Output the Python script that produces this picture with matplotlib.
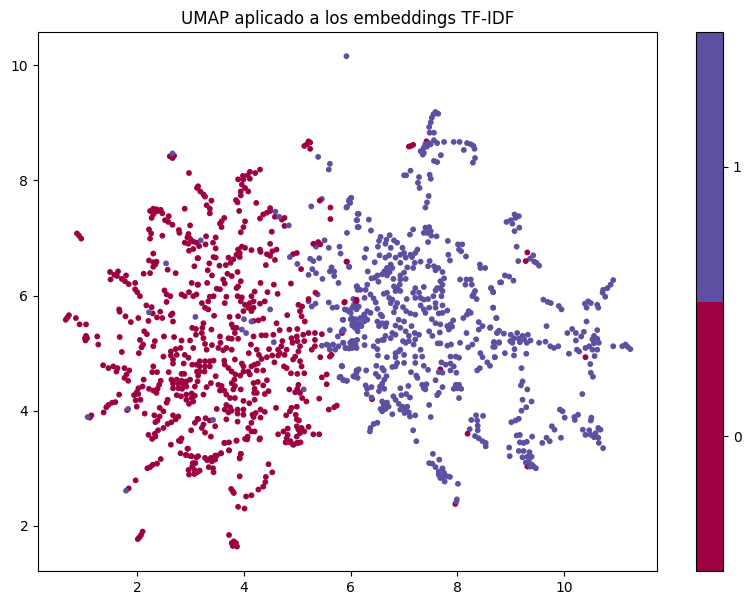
# UMAP sobre embeddings TF-IDF
import numpy as np
import matplotlib
matplotlib.use("Agg")
import matplotlib.pyplot as plt

# clase 0 que queda debajo de la clase 1
puntos_0_debajo = [
    (7.42,8.68),(7.68,4.72),(6.40,4.20),(5.84,5.35),(7.96,2.38),(9.31,3.03),
]

# clase 1
puntos_1 = [
    (5.39,8.41),(5.61,8.29),(5.59,8.19),(5.46,7.68),(5.26,7.55),(6.01,7.70),(5.97,7.66),(5.99,7.61),(5.92,7.53),(6.13,7.42),
    (6.11,7.31),(6.13,7.19),(5.93,7.09),(5.35,6.85),(5.51,6.96),(5.59,6.83),(5.79,6.85),(5.81,6.73),(5.97,6.50),(5.41,6.65),
    (5.24,6.64),(5.30,6.60),(5.28,6.46),(5.00,6.55),(5.21,6.36),(5.35,6.39),(5.47,6.29),(5.64,6.49),(5.61,6.42),(5.69,6.42),
    (5.69,6.34),(5.77,6.22),(6.11,6.16),(5.38,6.02),(6.13,6.10),(6.05,5.94),
    (5.21,5.90),(5.27,5.81),(5.34,5.86),(5.59,5.88),(5.66,5.79),(5.74,5.80),(5.89,5.76),(5.96,5.73),(6.03,5.79),(6.11,5.76),
    (5.85,5.58),(6.02,5.61),(6.08,5.58),(6.03,5.51),(6.11,5.50),(6.08,5.44),(6.13,5.38),(5.61,5.40),(5.83,5.38),(5.86,5.41),
    (5.76,5.29),(5.86,5.18),(5.67,5.15),(5.59,5.13),(5.46,5.13),(5.55,5.15),(5.61,5.06),(5.71,5.06),(5.77,5.12),(5.91,5.09),
    (6.02,5.21),(6.08,5.18),(6.01,5.12),(6.11,5.09),(5.83,4.78),(5.79,4.58),(5.86,4.53),(5.92,4.52),(6.11,4.70),(6.05,4.60),
    (6.13,4.57),
    (5.97,7.64),(5.93,7.54),(6.15,7.42),(6.12,7.31),(6.34,7.32),(6.15,7.19),(6.38,7.13),(7.43,7.62),(7.40,7.53),(7.17,7.15),
    (7.11,7.06),(7.40,7.18),(7.47,7.19),(7.37,7.09),(7.43,7.09),(7.50,7.12),(7.51,7.04),(7.45,6.93),(7.61,7.03),(7.82,6.95),
    (6.56,7.02),(6.73,7.05),(6.53,6.95),(6.67,6.97),(6.65,6.90),(6.81,6.96),(6.87,6.92),(6.51,6.85),(6.75,6.83),(6.97,6.83),
    (6.29,6.81),(6.26,6.66),(6.54,6.70),(6.72,6.70),(6.65,6.66),(6.84,6.66),(6.93,6.71),(7.00,6.74),(7.12,6.71),(7.25,6.80),
    (7.21,6.74),(7.03,6.66),(7.15,6.67),(7.31,6.59),(7.20,6.57),(7.48,6.60),(6.45,6.58),(6.93,6.57),(7.06,6.49),(7.17,6.48),
    (6.75,6.54),(6.78,6.48),(6.68,6.48),(6.63,6.42),(6.73,6.41),(6.59,6.37),(6.68,6.35),(6.32,6.42),(6.50,6.35),(6.45,6.31),
    (6.39,6.30),(6.52,6.24),(7.00,6.40),(6.93,6.35),(7.03,6.29),(6.93,6.28),(6.80,6.29),(7.45,6.51),(7.56,6.51),(7.64,6.48),
    (7.59,6.44),(7.72,6.41),(7.75,6.30),(7.68,6.25),(7.72,6.19),(7.62,6.13),(7.68,6.13),(7.59,6.09),(7.72,6.08),(7.37,6.15),
    (7.21,6.13),(7.17,6.05),(8.05,6.28),(8.17,6.28),(8.25,6.28),(8.15,6.19),(8.27,6.19),(8.42,6.54),(8.43,6.48),(8.52,6.48),
    (8.01,6.89),(8.09,6.89),(8.03,6.80),(8.07,6.77),(8.16,6.68),(7.83,6.71),(7.86,6.61),(8.80,6.23),(8.63,6.13),(8.67,6.06),
    (8.33,6.08),(8.30,6.02),(8.28,5.99),(8.36,5.94),(8.67,5.79),(8.73,5.61),(6.12,6.16),(6.18,6.10),(6.31,6.19),(6.28,6.10),
    (6.26,5.96),(6.43,5.95),(6.37,6.02),(6.47,5.88),(6.62,6.03),(6.68,6.05),(6.72,5.96),(6.78,5.93),(6.75,5.87),(6.81,6.16),
    (6.87,6.13),(6.92,6.19),(6.84,6.08),(6.93,6.08),(7.05,5.94),(7.28,6.05),(7.21,5.96),(7.31,5.96),(7.37,5.93),(7.45,5.94),
    (7.55,5.99),(7.70,5.99),(6.87,5.87),(6.84,5.80),(6.98,5.80),(7.04,5.73),(7.12,5.69),(7.21,5.67),(7.31,5.83),(7.37,5.76),
    (7.47,5.79),(7.40,5.70),(7.59,5.87),(7.59,5.79),(7.72,5.83),(7.81,5.74),(7.72,5.70),(7.65,5.69),(8.21,5.73),(8.25,5.70),
    (8.18,5.67),(8.11,5.61),(7.52,5.59),(7.59,5.52),(7.68,5.50),(7.92,5.57),(7.87,5.50),(7.81,5.47),(7.90,5.46),(7.84,5.41),
    (7.67,5.36),(8.17,5.35),(8.40,5.54),(8.47,5.47),(8.40,5.41),(8.61,5.44),(8.75,5.36),(6.06,5.84),(6.15,5.81),(5.93,5.75),
    (6.00,5.70),(6.25,5.67),(6.31,5.73),(6.37,5.70),(6.26,5.64),(6.18,5.61),(5.86,5.58),(6.00,5.59),(6.09,5.59),(6.31,5.58),
    (6.25,5.55),(6.15,5.52),(6.03,5.48),(6.12,5.44),(6.20,5.47),(5.87,5.40),(6.50,5.77),(6.56,5.67),(6.59,5.64),(6.50,5.55),
    (6.59,5.52),(6.67,5.52),(6.65,5.46),(6.53,5.47),(6.81,5.71),(6.90,5.58),(7.00,5.55),(6.84,5.48),(6.93,5.44),(7.03,5.38),
    (7.14,5.47),(6.78,5.35),(6.75,5.26),(6.84,5.32),(7.09,5.30),(7.20,5.35),(7.28,5.32),(7.47,5.38),(7.53,5.30),(6.65,5.30),
    (6.59,5.23),(6.51,5.21),(6.43,5.12),(6.50,5.07),(6.62,5.23),(6.26,5.28),(6.26,5.14),(6.12,5.23),(6.06,5.21),(5.99,5.18),
    (6.09,5.15),(6.03,5.09),(5.97,5.08),(5.86,5.18),(5.90,5.09),(7.09,5.21),(7.03,5.18),(6.98,5.21),(7.21,5.24),(7.18,5.15),
    (6.93,5.06),(6.84,5.00),(6.90,5.03),(7.00,4.97),(6.68,4.93),(6.84,4.93),(6.51,4.96),(7.21,4.94),(7.31,5.06),(7.34,4.94),
    (7.68,5.17),(7.63,5.17),(7.81,5.13),(7.88,5.15),(8.05,5.18),(8.20,5.10),(8.28,5.15),(8.35,5.24),(8.68,5.19),(8.67,5.11),
    (8.78,5.18),(8.43,5.00),(8.47,4.93),(8.70,4.93),(7.87,4.94),(7.97,4.94),(8.03,4.92),(5.97,6.50),
    (5.92,10.16),(7.59,9.19),(7.64,9.16),(7.55,9.15),(7.52,9.09),(7.50,9.01),(7.47,8.93),(7.48,8.83),(7.56,8.83),(7.56,8.70),
    (7.62,8.65),(7.75,8.67),(7.93,8.67),(8.04,8.67),(8.18,8.65),(8.25,8.63),(8.30,8.60),(8.32,8.55),(8.12,8.53),(8.33,8.39),
    (8.29,8.31),(7.40,8.63),(7.47,8.65),(7.50,8.63),(7.43,8.59),(7.37,8.57),(7.31,8.51),(7.37,8.48),(7.35,8.45),(7.69,8.44),
    (7.56,8.34),(7.62,8.32),(7.12,8.17),(7.00,8.09),(7.04,8.09),(7.28,8.06),(7.26,7.96),(7.29,7.87),(7.48,8.10),(7.50,8.03),
    (7.46,7.73),(6.00,7.69),
    (5.84,4.77),(6.15,4.72),(6.11,4.66),(6.07,4.59),(6.29,4.70),(6.48,4.78),(6.47,4.64),(6.52,4.59),(6.59,4.74),(6.62,4.70),
    (6.78,4.76),(6.87,4.83),(6.84,4.77),(7.00,4.83),(7.21,4.83),(7.13,4.67),(7.23,4.61),(7.25,4.57),(7.37,4.78),(7.45,4.71),
    (7.65,4.67),(7.72,4.66),(7.70,4.84),(7.78,4.80),(7.87,4.82),(7.93,4.77),(7.87,4.70),(7.98,4.66),(8.37,4.70),(8.42,4.74),
    (8.56,4.84),(8.61,4.78),(5.93,4.52),(5.87,4.53),(5.81,4.59),(6.67,4.60),(6.63,4.54),(6.59,4.47),(6.55,4.42),(6.63,4.38),
    (6.53,4.34),(6.28,4.44),(6.39,4.41),(6.31,4.38),(6.30,4.29),(6.39,4.23),(6.93,4.39),(7.08,4.43),(6.95,4.27),(7.04,4.29),
    (7.11,4.23),(7.34,4.45),(7.42,4.46),(7.37,4.39),(7.40,4.37),(7.59,4.53),(7.72,4.41),(7.65,4.31),(7.62,4.27),(7.97,4.45),
    (8.03,4.45),(7.93,4.38),(8.00,4.39),(8.07,4.38),(8.03,4.22),(6.59,4.16),(6.68,4.14),(6.62,4.10),(6.71,4.07),(6.56,4.03),
    (6.65,4.03),(6.59,3.99),(6.78,3.94),(6.80,4.25),(6.84,4.19),(6.90,4.12),(6.97,4.07),(7.06,4.07),(6.93,4.02),(7.03,4.02),
    (7.09,3.97),(7.01,3.96),(7.11,3.90),(7.21,3.92),(7.47,4.10),(7.50,3.89),(6.50,3.79),(6.43,3.77),(6.37,3.70),(6.36,3.64),
    (7.17,3.66),(7.23,3.47),(8.35,3.92),(8.48,3.91),(8.26,3.84),(8.37,3.83),(8.38,3.74),(8.38,3.66),(8.23,3.68),(8.33,3.56),
    (8.40,3.52),(8.47,3.47),(8.53,3.44),(8.53,3.38),(7.54,3.25),(7.66,3.15),(7.47,3.09),(7.53,3.08),(7.59,3.02),(7.72,3.00),
    (7.65,2.94),(7.75,2.92),(7.65,2.89),(7.72,2.85),(7.81,2.86),(7.76,2.77),(7.86,2.85),(7.68,2.83),(8.01,2.73),(7.99,2.46),
    (7.98,2.42),
    (9.07,7.41),(9.15,7.38),(9.00,7.31),(8.92,7.28),(9.09,7.35),(9.03,7.25),(9.16,7.18),(9.07,7.12),(9.11,6.85),(9.14,6.60),
    (9.42,6.70),(9.36,6.64),(9.44,6.59),(9.48,6.57),(9.53,6.52),(8.89,6.35),(8.97,6.33),(9.05,6.26),(8.82,6.23),(8.63,6.13),
    (8.67,6.06),(9.61,5.93),(9.69,5.89),(9.75,5.87),(9.90,5.82),(9.95,5.76),(10.92,6.27),(10.87,6.19),(10.81,6.13),(10.73,6.10),
    (10.72,6.05),(10.77,5.98),(10.45,5.90),(10.39,5.86),(10.50,5.87),(10.42,5.79),(10.62,5.84),(10.64,5.79),(8.67,5.79),(8.73,5.61),
    (10.42,5.55),(9.67,5.47),(8.62,5.45),(8.78,5.39),(8.74,5.35),(8.87,5.34),(9.00,5.32),(9.12,5.35),(9.22,5.30),(9.32,5.32),
    (9.15,5.25),(9.06,5.26),(9.25,5.24),(9.37,5.22),(9.30,5.18),(8.99,5.21),(9.03,5.18),(9.17,5.19),(9.53,5.18),(9.65,5.20),
    (9.74,5.12),(9.81,5.09),(9.89,5.12),(10.06,5.35),(10.15,5.42),(10.22,5.35),(10.37,5.37),(10.32,5.29),(10.22,5.22),(10.62,5.40),
    (10.56,5.30),(10.53,5.24),(10.62,5.25),(10.65,5.18),(10.56,5.17),(10.47,5.12),(10.62,5.06),(10.53,5.06),(10.40,5.09),(10.24,5.06),
    (10.28,5.03),(10.09,4.99),(10.57,4.95),(10.92,5.12),(11.09,5.12),(11.15,5.15),(11.19,5.11),(11.24,5.07),(8.69,5.19),(8.78,5.19),
    (8.70,5.11),(9.07,5.07),(8.89,5.00),(9.06,4.96),(9.29,4.99),(8.70,4.93),
    (10.49,4.81),(10.50,4.66),(10.54,4.59),(10.34,4.29),(9.20,4.74),(9.22,4.51),(9.19,4.44),(9.31,4.37),(9.22,4.19),(9.39,4.16),
    (9.29,4.06),(9.20,4.00),(9.15,3.86),(9.09,3.83),(9.01,3.80),(9.92,4.02),(9.97,3.99),(10.01,3.88),(10.26,3.93),(10.19,3.89),
    (10.20,3.84),(10.51,3.88),(10.50,3.83),(9.77,3.73),(9.82,3.67),(10.35,3.67),(10.64,3.70),(10.68,3.67),(10.47,3.66),(10.40,3.58),
    (10.50,3.58),(10.59,3.61),(10.56,3.54),(10.64,3.53),(10.65,3.44),(10.73,3.35),(9.94,3.53),(9.67,3.53),(9.73,3.47),(9.59,3.44),
    (9.11,3.57),(9.17,3.58),(9.40,3.55),(9.17,3.45),(9.24,3.44),(9.30,3.46),(8.97,3.36),(8.98,3.21),(9.15,3.30),(9.24,3.30),
    (9.35,3.28),(9.22,3.19),(9.31,3.20),(9.39,3.20),(9.34,3.12),(9.28,3.10),(9.40,3.06),(9.47,3.00),(9.43,3.03),(9.36,3.03),
]

# clase 0
puntos_0 = [
    (2.64,8.42),(2.61,8.42),(2.69,8.43),(2.66,8.39),(2.97,8.13),(3.12,7.87),(2.24,7.47),(2.30,7.51),(2.36,7.50),(2.44,7.49),
    (2.47,7.43),(2.30,7.41),(2.27,7.35),(2.33,7.45),(2.39,7.47),(2.89,7.51),(2.59,7.38),(2.52,7.31),(2.58,7.28),(2.66,7.23),
    (2.99,7.22),(2.22,7.15),(2.26,7.08),(2.24,6.99),(2.47,7.04),(2.78,7.14),(2.79,7.09),(0.87,7.08),(0.91,7.04),(0.95,6.99),
    (2.96,7.07),(2.94,7.01),(2.99,6.99),(2.89,6.92),(2.96,6.90),(3.05,6.94),(3.11,6.92),(2.97,6.78),(3.05,6.81),(2.30,6.73),
    (2.22,6.61),(2.30,6.58),(2.36,6.59),(2.30,6.50),(2.34,6.54),(2.57,6.45),(3.13,6.65),(3.07,6.51),(2.72,6.39),(2.24,6.39),
    (2.12,6.38),(1.49,6.41),(1.64,6.42),(1.57,6.36),(1.62,6.34),(1.50,6.28),(1.79,6.35),(1.71,6.29),(1.77,6.25),(1.84,6.20),
    (1.96,6.22),(1.96,6.11),(2.00,6.06),(2.05,5.99),(3.02,6.22),(3.13,6.19),(2.51,6.09),(2.55,6.02),(2.62,5.99),(2.83,6.02),
    (2.97,6.06),(2.89,5.99),(3.05,5.99),(3.11,6.02),
    (0.72,5.66),(0.69,5.62),(0.66,5.58),(0.85,5.61),(0.92,5.50),(1.04,5.50),(1.04,5.30),(1.02,5.26),(1.06,5.26),(1.03,5.22),
    (1.25,5.29),(1.27,5.15),(1.66,5.76),(1.67,5.72),(1.78,5.64),(1.88,5.54),(2.02,5.61),(2.17,5.83),(2.27,5.80),(2.29,5.69),
    (2.43,5.72),(2.37,5.62),(2.47,5.61),(2.21,5.56),(2.63,5.66),(2.66,5.69),(2.67,5.55),(2.55,5.89),(2.13,5.38),(2.18,5.33),
    (2.05,5.23),(2.11,5.15),(2.08,5.10),(2.33,5.21),(2.30,5.12),(2.50,5.29),(1.67,5.28),(1.71,5.02),(2.03,5.00),(2.69,5.28),
    (2.83,5.22),(2.99,5.22),(3.03,5.44),(3.10,5.42),(3.10,5.32),(3.05,5.09),(2.81,5.09),(2.72,5.07),(2.63,5.03),(2.63,4.96),
    (2.49,4.94),(2.74,4.97),(2.67,4.89),(2.67,4.82),(2.89,4.97),(2.96,4.92),(2.87,4.82),(3.03,4.80),(3.11,4.80),(3.12,4.68),
    (1.36,4.79),(1.46,4.74),(1.55,4.77),(1.63,4.74),(1.61,4.68),(1.76,4.74),(1.85,4.70),(1.80,4.63),(1.76,4.57),(1.83,4.52),
    (2.30,4.77),(2.28,4.67),(2.37,4.67),(2.59,4.67),(2.83,4.64),(2.88,4.64),(2.12,4.54),(2.44,4.52),(2.41,4.45),(2.38,4.38),
    (2.22,4.38),(2.30,4.35),(2.36,4.31),(2.64,4.54),(2.74,4.54),(2.83,4.52),(2.92,4.51),(2.99,4.54),(2.67,4.47),(2.77,4.47),
    (2.87,4.45),(2.67,4.39),(2.77,4.39),(2.84,4.38),(2.92,4.42),(3.08,4.42),(3.13,4.51),(2.74,4.27),(2.82,4.25),(2.92,4.28),
    (3.02,4.30),(3.08,4.26),(2.92,4.19),(3.02,4.22),(2.97,4.12),(3.05,4.16),(2.57,4.19),(2.55,4.14),(2.02,4.39),(2.10,4.42),
    (1.99,4.32),(1.94,4.27),(2.02,4.29),(2.06,4.19),(1.97,4.18),(1.99,4.07),(1.66,4.28),(1.59,4.15),(1.53,4.14),(1.46,4.10),
    (1.42,4.06),(1.37,3.97),(1.81,4.01),(2.14,3.95),(2.42,4.05),(2.49,3.99),(2.32,3.92),(2.42,3.90),(2.38,3.83),(2.34,3.80),
    (2.67,3.92),(2.77,3.90),(2.72,3.85),(2.64,3.80),(2.57,3.77),(2.49,3.70),(2.39,3.66),(2.33,3.60),(2.21,3.58),(2.28,3.51),
    (2.34,3.55),(3.13,3.86),(3.08,3.79),(3.01,3.66),(2.83,3.52),(2.78,3.48),(2.63,3.41),(2.94,3.34),(2.81,3.26),(2.92,3.23),
    (3.02,3.21),(3.11,3.19),(2.44,3.16),(1.14,3.92),(1.11,3.88),
    (2.81,3.47),(2.95,3.34),(2.91,3.23),(3.00,3.21),(3.04,3.09),(3.09,3.09),(3.03,3.03),(2.96,2.97),(3.07,2.97),(3.17,2.96),
    (2.97,2.89),(3.07,2.90),(3.12,2.93),(2.37,3.08),(2.29,3.06),(2.24,3.02),(2.19,3.00),(1.97,2.79),(1.84,2.65),(3.31,3.14),
    (3.40,3.12),(3.46,3.15),(3.49,3.22),(3.57,3.26),(3.34,3.02),(3.42,3.00),(3.43,2.93),(3.72,3.31),(3.63,3.44),(3.94,3.25),
    (3.92,3.17),(4.46,3.07),(4.53,2.93),(4.41,2.85),(4.40,2.76),(4.36,2.68),(4.27,2.63),(3.92,2.86),(3.76,2.64),(3.79,2.60),
    (3.81,2.57),(4.04,2.51),(4.14,2.53),(3.89,2.33),(4.01,2.30),(2.10,1.90),(2.07,1.84),(2.04,1.80),(2.01,1.77),(3.72,1.84),
    (3.81,1.73),(3.85,1.70),(3.79,1.65),(3.87,1.64),(3.82,1.69),(3.77,1.70),(4.79,3.45),(4.87,3.47),(4.93,3.41),(4.99,3.44),
    (5.06,3.45),(3.86,3.48),(4.06,3.50),(4.29,3.50),
    (5.21,8.68),(5.18,8.63),(5.24,8.66),(5.13,8.60),(5.24,8.55),(4.30,8.19),(4.21,8.13),(4.11,8.15),(4.07,8.09),(3.98,8.08),
    (3.89,8.02),(3.99,8.02),(4.11,8.03),(3.96,7.93),(4.02,7.87),(4.08,7.81),(3.94,7.81),(3.94,7.74),(3.14,7.90),(3.18,7.81),
    (3.24,7.76),(3.27,7.72),(3.39,7.65),(3.30,7.57),(3.36,7.51),(3.36,7.43),(3.85,7.66),(3.88,7.62),(3.91,7.47),(4.23,7.61),
    (5.42,7.65),(5.62,7.53),(5.62,7.33),(4.49,7.52),(4.43,7.44),(4.36,7.41),(4.49,7.47),(4.58,7.37),(4.30,7.34),(4.71,7.32),
    (4.76,7.35),(4.76,7.21),(3.63,7.35),(3.58,7.29),(3.55,7.25),(3.58,7.19),(4.02,7.29),(3.99,7.19),(3.94,7.10),(4.52,7.11),
    (3.47,7.01),(3.29,7.03),(3.16,6.86),(3.28,6.89),(3.42,6.92),(3.47,6.82),(4.49,6.90),(4.61,6.80),(4.30,6.80),(4.31,6.76),
    (4.14,6.79),(3.96,6.85),(4.02,6.83),(3.89,6.80),(3.92,6.74),(3.86,6.71),(3.92,6.67),(3.71,6.66),(3.80,6.63),(3.75,6.57),
    (3.66,6.53),(3.54,6.52),(4.43,6.72),(4.49,6.69),(4.53,6.77),(4.58,6.62),(4.41,6.53),(3.43,6.67),(3.35,6.56),(3.32,6.44),
    (3.40,6.35),(3.47,6.66),(3.14,6.65),(3.69,6.38),(3.77,6.34),(3.88,6.41),(3.61,6.28),(3.64,6.21),(3.94,6.25),(3.89,6.16),
    (4.31,6.22),(4.56,6.19),(4.88,6.21),(3.31,6.22),(3.14,6.19),(3.49,6.12),(3.55,6.11),(3.67,5.98),(4.20,6.07),(4.44,6.06),
    (4.63,6.03),(3.88,5.99),(3.96,5.97),(4.14,5.99),(3.43,5.99),(3.36,5.98),(3.86,6.13),(5.30,6.90),(5.39,6.93),(5.43,6.89),
    (4.99,6.74),(4.92,6.72),(5.07,6.46),(5.93,6.59),(5.34,6.05),(5.21,5.94),
    (3.33,5.90),(3.21,5.87),(3.27,5.79),(3.33,5.76),(3.44,5.65),(3.64,5.87),(3.73,5.63),(3.94,5.90),(4.02,5.84),(4.11,5.87),
    (4.18,5.90),(4.08,5.79),(4.18,5.79),(4.14,5.73),(4.30,5.86),(4.39,5.90),(3.99,5.73),(4.18,5.56),(4.27,5.57),(4.36,5.60),
    (3.89,5.64),(4.81,5.66),(4.61,5.52),(3.24,5.52),(3.22,5.44),(3.21,5.35),(3.24,5.26),(3.39,5.41),(3.27,5.16),(3.30,5.06),
    (3.40,5.14),(3.55,5.29),(3.77,5.50),(3.80,5.44),(3.86,5.44),(3.83,5.35),(4.18,5.29),(4.33,5.31),(4.41,5.31),(4.55,5.32),
    (4.67,5.40),(4.85,5.41),(5.00,5.42),(3.71,5.26),(3.77,5.25),(3.89,5.25),(3.56,5.18),(3.52,5.09),(3.61,5.05),(3.67,5.09),
    (3.77,5.06),(4.13,5.15),(4.09,5.00),(4.24,5.06),(4.28,4.97),(4.33,4.90),(4.43,4.93),(4.47,5.07),(4.53,4.96),(4.57,4.84),
    (4.64,5.06),(4.70,5.12),(4.80,5.06),(4.67,5.00),(4.76,4.97),(4.64,4.96),(4.72,5.21),(4.89,5.26),(4.99,5.29),(5.11,5.32),
    (5.21,5.35),(5.33,5.35),(5.46,5.33),(4.91,5.18),(5.00,5.21),(5.05,5.12),(5.13,5.21),(5.33,5.23),(5.33,5.12),(5.27,5.06),
    (5.02,5.03),(4.96,4.94),(4.92,4.89),(5.05,4.86),(5.08,4.77),(4.75,4.77),(4.80,4.74),(4.88,4.65),(5.00,4.64),(5.13,4.65),
    (5.43,4.93),(5.61,4.94),(5.64,4.97),(3.17,4.86),(3.27,4.86),(3.36,4.86),(3.43,4.87),(3.17,4.77),(3.27,4.77),(3.36,4.77),
    (3.17,4.68),(3.26,4.68),(3.14,4.61),(3.63,4.87),(3.64,4.80),(3.83,4.89),(3.96,4.82),(3.71,4.74),(3.77,4.68),(3.84,4.63),
    (3.93,4.61),(3.99,4.68),(3.99,4.77),(4.08,4.68),(4.14,4.77),(4.20,4.80),(4.26,4.82),(4.36,4.70),(4.11,4.63),(4.24,4.70),
    (3.47,4.60),(3.38,4.48),(3.30,4.41),(3.24,4.28),(3.52,4.45),(3.58,4.43),(3.63,4.35),(3.55,4.35),(3.67,4.28),(3.80,4.37),
    (3.74,4.22),(3.83,4.43),(3.94,4.37),(3.77,4.48),(3.82,4.54),(4.18,4.48),(4.26,4.50),(4.43,4.53),(4.36,4.44),(4.20,4.38),
    (4.19,4.31),(4.24,4.31),(4.46,4.34),(4.39,4.29),(3.83,4.22),(3.99,4.17),(4.10,4.13),(4.20,4.19),(4.85,4.37),(4.96,4.32),
    (5.02,4.45),(5.00,4.38),(5.05,4.31),(5.09,4.22),(5.17,4.16),(5.41,4.21),(5.46,4.58),(5.55,4.63),(5.55,4.46),(5.59,4.02),
    (5.69,4.06),(5.74,4.09),(3.49,4.03),(3.67,4.10),(3.74,4.06),(3.64,4.02),(3.71,3.97),(3.77,4.00),(3.88,4.02),(3.88,3.95),
    (3.99,4.02),(3.99,3.93),(4.22,3.96),(4.18,3.89),(4.31,4.02),(4.39,3.98),(4.31,3.88),(4.60,4.05),(4.16,3.93),(4.89,4.05),
    (4.99,4.07),(4.86,3.99),(4.97,3.93),(4.79,3.92),(4.99,3.85),(5.03,3.83),(3.14,3.85),(3.28,3.87),(3.36,3.83),(3.67,3.85),
    (3.88,3.81),(4.14,3.79),(3.24,3.76),(3.21,3.70),(3.27,3.62),(3.38,3.55),(3.46,3.73),(4.08,3.70),(4.14,3.64),(4.20,3.64),
    (4.07,3.55),(4.02,3.51),(4.30,3.52),(3.86,3.48),(3.72,3.45),(3.64,3.44),(3.72,3.31),(3.94,3.25),(3.92,3.18),(3.57,3.26),
    (3.46,3.22),(3.38,3.18),(3.14,3.21),(3.27,3.18),(4.64,3.59),(4.74,3.64),(4.82,3.69),(4.99,3.73),(5.02,3.67),(5.08,3.70),
    (5.13,3.64),(5.05,3.61),(5.21,3.72),(5.30,3.59),(5.41,3.59),(4.82,3.58),(4.80,3.52),(4.78,3.45),(4.86,3.45),(4.92,3.41),
    (5.02,3.44),(4.99,3.55),(6.11,5.90),(5.88,5.88),(5.02,5.84),(5.09,5.81),(5.05,5.73),(5.14,5.55),(5.08,5.64),
    (5.92,6.59),(5.89,5.89),(6.11,5.93),(7.09,8.59),(7.13,8.60),(7.17,8.62),(8.19,3.60),
    (9.31,6.75),(9.28,6.60),(10.40,4.93),
]

# clase 1 que queda encima de la clase 0
puntos_1_encima = [
    (2.66,8.47),(2.54,6.56),(2.22,5.71),(3.09,5.63),(1.83,4.03),(1.07,3.89),(1.79,2.61),(4.59,7.46),(4.66,7.37),(4.84,7.22),
    (3.19,6.96),(4.86,6.67),(4.49,5.76),(4.00,5.59),(4.14,5.55),(3.96,5.41),(4.04,5.35),(4.56,5.19),(5.12,4.37),(3.42,3.84),
]

grupos = [puntos_0_debajo, puntos_1, puntos_0, puntos_1_encima]
clases = [0, 1, 0, 1]
titulo = "UMAP aplicado a los embeddings TF-IDF"

xy = np.array(sum(grupos, []))
etiquetas = np.repeat(clases, [len(g) for g in grupos])

fig = plt.figure(figsize=(7.51, 6.05), dpi=100)
ax = fig.add_axes([38/751, 1 - 571/605, 619/751, 539/605])
sc = ax.scatter(xy[:, 0], xy[:, 1], c=etiquetas, cmap="Spectral", s=10)
ax.set_xlim(0.14, 11.74)
ax.set_ylim(1.215, 10.58)
ax.set_xticks([2, 4, 6, 8, 10])
ax.set_yticks([2, 4, 6, 8, 10])
ax.set_title(titulo, fontsize=12)

cax = fig.add_axes([696/751, 1 - 571/605, 27/751, 539/605])
cbar = fig.colorbar(sc, cax=cax, boundaries=np.arange(3) - 0.5)
cbar.set_ticks(np.arange(2))

fig.savefig("out.png", dpi=100)
